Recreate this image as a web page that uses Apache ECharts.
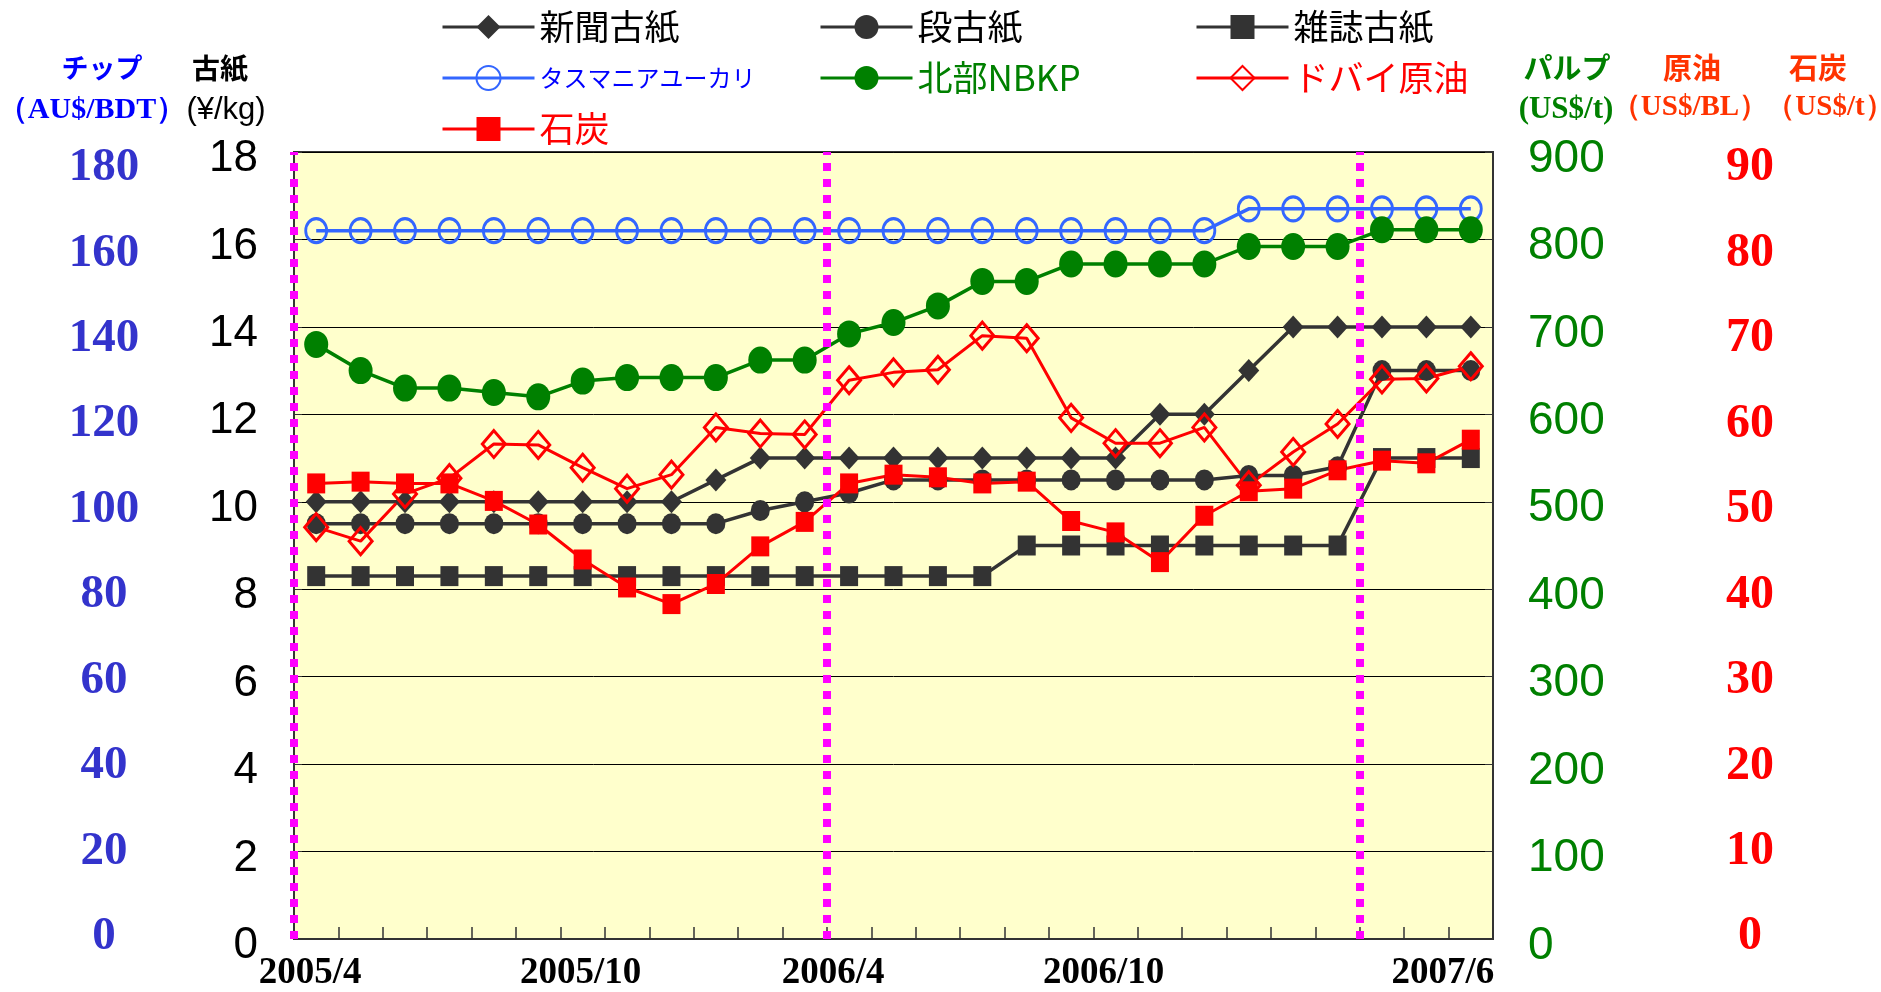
<!DOCTYPE html>
<html>
<head>
<meta charset="utf-8">
<title>古紙・パルプ・チップ・原油・石炭 価格推移</title>
<script src="https://cdn.jsdelivr.net/npm/echarts@6/dist/echarts.min.js"></script>
<style>
  html, body { margin: 0; padding: 0; background: #fff; }
  #chart { width: 1881px; height: 992px; }
</style>
</head>
<body>
<div id="chart"></div>
<script>
  // ---- data ----
  var months = ['2005/4','2005/5','2005/6','2005/7','2005/8','2005/9','2005/10','2005/11','2005/12',
    '2006/1','2006/2','2006/3','2006/4','2006/5','2006/6','2006/7','2006/8','2006/9','2006/10','2006/11','2006/12',
    '2007/1','2007/2','2007/3','2007/4','2007/5','2007/6']
  var shownMonths = ['2005/4','2005/10','2006/4','2006/10','2007/6']   // x軸に表示するラベル
  var fiscalStarts = [0, 12, 24]                                       // 年度区切り（月の境目）

  // 古紙 (¥/kg)
  var shinbun = [10,10,10,10,10,10,10,10,10,10.5,11,11,11,11,11,11,11,11,11,12,12,13,14,14,14,14,14]
  var danbo = [9.5,9.5,9.5,9.5,9.5,9.5,9.5,9.5,9.5,9.5,9.8,10,10.2,10.5,10.5,10.5,10.5,10.5,10.5,10.5,10.5,10.6,10.6,10.8,13,13,13]
  var zasshi = [8.3,8.3,8.3,8.3,8.3,8.3,8.3,8.3,8.3,8.3,8.3,8.3,8.3,8.3,8.3,8.3,9,9,9,9,9,9,9,9,11,11,11]
  // チップ (AU$/BDT)
  var tasmania = [162,162,162,162,162,162,162,162,162,162,162,162,162,162,162,162,162,162,162,162,162,167,167,167,167,167,167]
  // パルプ (US$/t)
  var nbkp = [680,650,630,630,625,620,638,642,642,642,662,662,692,705,724,752,752,772,772,772,772,792,792,792,811,811,811]
  // 原油 (US$/BL)
  var dubai = [47.1,45.5,50.9,52.7,56.6,56.5,53.9,51.5,53.1,58.5,57.8,57.7,63.9,64.8,65.1,69.0,68.7,59.6,56.7,56.7,58.5,51.9,55.7,58.9,64.0,64.1,65.5]
  // 石炭 (US$/t)
  var coal = [52.1,52.3,52.1,52.1,50.1,47.4,43.4,40.2,38.3,40.6,44.9,47.7,52.1,53.1,52.8,52.1,52.3,47.8,46.5,43.1,48.4,51.2,51.5,53.6,54.7,54.4,57.1]

  var SANS = '"Liberation Sans", Arial, sans-serif'
  var SERIF = '"Liberation Serif", "Times New Roman", serif'
  var JP = '"Noto Sans CJK JP", sans-serif'

  // x軸ラベルの左寄せ量（右パディング）
  var labelPad = { '2005/4': 12, '2005/10': 4, '2006/4': 32, '2006/10': 24, '2007/6': 56 }
  var richX = {}
  shownMonths.forEach(function (m, i) {
    richX['m' + i] = { padding: [0, labelPad[m], 0, 0], color: '#000', fontFamily: SERIF, fontWeight: 'bold', fontSize: 37 }
  })

  // ヘッダー（軸タイトル）
  function header (x, y, text, color, font) {
    return {
      type: 'text', x: x, y: y, silent: true,
      style: { text: text, fill: color, font: font, align: 'center', verticalAlign: 'middle' }
    }
  }

  function legendCol (left, items) {
    return {
      orient: 'vertical', left: left, top: 4, itemWidth: 92, itemHeight: 30, itemGap: 15,
      textStyle: { fontFamily: JP, fontSize: 35, lineHeight: 36 },
      lineStyle: { width: 3 },
      data: items
    }
  }

  var chart = echarts.init(document.getElementById('chart'))
  chart.setOption({
    animation: false,
    backgroundColor: '#fff',
    grid: [
      // 本体
      { left: 294, right: 388, top: 152, bottom: 52, show: true, backgroundColor: '#FFFFCC', borderColor: '#333', borderWidth: 2 },
      // 青・赤の目盛りラベル用（少し詰まっている）
      { left: 294, right: 388, top: 168, bottom: 55, show: false }
    ],
    legend: [
      legendCol(436, [
        { name: '新聞古紙', textStyle: { color: '#000' } },
        { name: 'タスマニアユーカリ', textStyle: { color: '#0000FF', fontSize: 24 } },
        { name: '石炭', textStyle: { color: '#FF0000' } }
      ]),
      legendCol(814, [
        { name: '段古紙', textStyle: { color: '#000' } },
        { name: '北部NBKP', textStyle: { color: '#008000' } }
      ]),
      legendCol(1190, [
        { name: '雑誌古紙', textStyle: { color: '#000' } },
        { name: 'ドバイ原油', textStyle: { color: '#FF0000' } }
      ])
    ],
    xAxis: [
      {
        type: 'category', gridIndex: 0, data: months, boundaryGap: true,
        axisLine: { lineStyle: { color: '#333', width: 2 } },
        axisTick: { show: true, inside: true, length: 12, interval: 0, lineStyle: { color: '#333', width: 1.5 } },
        axisLabel: {
          interval: function (i, v) { return shownMonths.indexOf(v) >= 0 },
          formatter: function (v) { return '{m' + shownMonths.indexOf(v) + '|' + v + '}' },
          rich: richX,
          margin: 16, color: '#000', fontFamily: SERIF, fontWeight: 'bold', fontSize: 37
        },
        splitLine: { show: false }
      },
      // 年度区切り線用
      { type: 'value', gridIndex: 0, min: 0, max: months.length, show: false },
      { type: 'category', gridIndex: 1, data: months, show: false }
    ],
    yAxis: [
      {   // 古紙
        type: 'value', gridIndex: 0, position: 'left', min: 0, max: 18, interval: 2,
        axisLine: { show: true, lineStyle: { color: '#333', width: 2 } },
        axisTick: { show: true, inside: true, length: 8, lineStyle: { color: '#333' } },
        axisLabel: {
          margin: 36, formatter: '{a|{value}}',
          rich: { a: { padding: [14, 0, 0, 0], color: '#000', fontFamily: SANS, fontSize: 44 } }
        },
        splitLine: { show: true, lineStyle: { color: '#000', width: 1 } }
      },
      {   // パルプ
        type: 'value', gridIndex: 0, position: 'right', min: 0, max: 900, interval: 100,
        axisLine: { show: true, lineStyle: { color: '#333', width: 2 } },
        axisTick: { show: true, inside: true, length: 8, lineStyle: { color: '#333' } },
        axisLabel: {
          margin: 35, formatter: '{a|{value}}',
          rich: { a: { padding: [14, 0, 0, 0], color: '#008000', fontFamily: SANS, fontSize: 46 } }
        },
        splitLine: { show: false }
      },
      { type: 'value', gridIndex: 0, position: 'left', min: 0, max: 180, show: false },   // チップ
      { type: 'value', gridIndex: 0, position: 'right', min: 0, max: 90, show: false },   // 原油・石炭
      {   // チップ目盛り
        type: 'value', gridIndex: 1, position: 'left', min: 0, max: 180, interval: 20,
        axisLine: { show: false }, axisTick: { show: false }, splitLine: { show: false },
        axisLabel: { margin: 190, align: 'center', color: '#3333CC', fontFamily: SERIF, fontWeight: 'bold', fontSize: 47 }
      },
      {   // 原油・石炭目盛り
        type: 'value', gridIndex: 1, position: 'right', min: 0, max: 90, interval: 10,
        axisLine: { show: false }, axisTick: { show: false }, splitLine: { show: false },
        axisLabel: { margin: 257, align: 'center', color: '#FF0000', fontFamily: SERIF, fontWeight: 'bold', fontSize: 48 }
      }
    ],
    graphic: [
      header(102, 68, 'チップ', '#0000FF', 'bold 27px ' + JP),
      header(92, 110, '（AU$/BDT）', '#0000FF', 'bold 30px ' + SERIF),
      header(220, 68, '古紙', '#000', 'bold 28px ' + JP),
      header(226, 110, '(¥/kg)', '#000', '31px ' + SANS),
      header(1567, 68, 'パルプ', '#008000', 'bold 29px ' + JP),
      header(1566, 110, '(US$/t)', '#008000', 'bold 31px ' + SERIF),
      header(1692, 68, '原油', '#FF3300', 'bold 29px ' + JP),
      header(1690, 108, '（US$/BL）', '#FF3300', 'bold 29px ' + SERIF),
      header(1818, 68, '石炭', '#FF3300', 'bold 29px ' + JP),
      header(1830, 108, '（US$/t）', '#FF3300', 'bold 29px ' + SERIF)
    ],
    series: [
      {
        name: '新聞古紙', type: 'line', yAxisIndex: 0, data: shinbun,
        symbol: 'diamond', symbolSize: [21, 23],
        itemStyle: { color: '#333' }, lineStyle: { color: '#333', width: 3.5 }
      },
      {
        name: '段古紙', type: 'line', yAxisIndex: 0, data: danbo,
        symbol: 'circle', symbolSize: [19, 21],
        itemStyle: { color: '#333' }, lineStyle: { color: '#333', width: 3.5 }
      },
      {
        name: '雑誌古紙', type: 'line', yAxisIndex: 0, data: zasshi,
        symbol: 'rect', symbolSize: [18, 20],
        itemStyle: { color: '#333' }, lineStyle: { color: '#333', width: 3.5 }
      },
      {
        name: 'タスマニアユーカリ', type: 'line', yAxisIndex: 2, data: tasmania,
        symbol: 'circle', symbolSize: [21, 24],
        itemStyle: { color: 'rgba(0,0,0,0)', borderColor: '#3366FF', borderWidth: 3 },
        lineStyle: { color: '#3366FF', width: 3.5 }
      },
      {
        name: '北部NBKP', type: 'line', yAxisIndex: 1, data: nbkp,
        symbol: 'circle', symbolSize: [24, 27],
        itemStyle: { color: '#008000' }, lineStyle: { color: '#008000', width: 3.5 }
      },
      {
        name: 'ドバイ原油', type: 'line', yAxisIndex: 3, data: dubai,
        symbol: 'diamond', symbolSize: [23, 27],
        itemStyle: { color: 'rgba(0,0,0,0)', borderColor: '#FF0000', borderWidth: 3 },
        lineStyle: { color: '#FF0000', width: 3 }
      },
      {
        name: '石炭', type: 'line', yAxisIndex: 3, data: coal,
        symbol: 'rect', symbolSize: [18, 20],
        itemStyle: { color: '#FF0000' }, lineStyle: { color: '#FF0000', width: 3 }
      },
      {   // 年度区切り（点線）
        name: '年度', type: 'line', xAxisIndex: 1, yAxisIndex: 0, data: [], z: 10,
        markLine: {
          silent: true, symbol: 'none', label: { show: false },
          lineStyle: { color: '#FF00FF', type: [8, 8], width: 8 },
          emphasis: { disabled: true },
          data: fiscalStarts.map(function (v) { return { xAxis: v } })
        }
      }
    ]
  })
</script>
</body>
</html>
